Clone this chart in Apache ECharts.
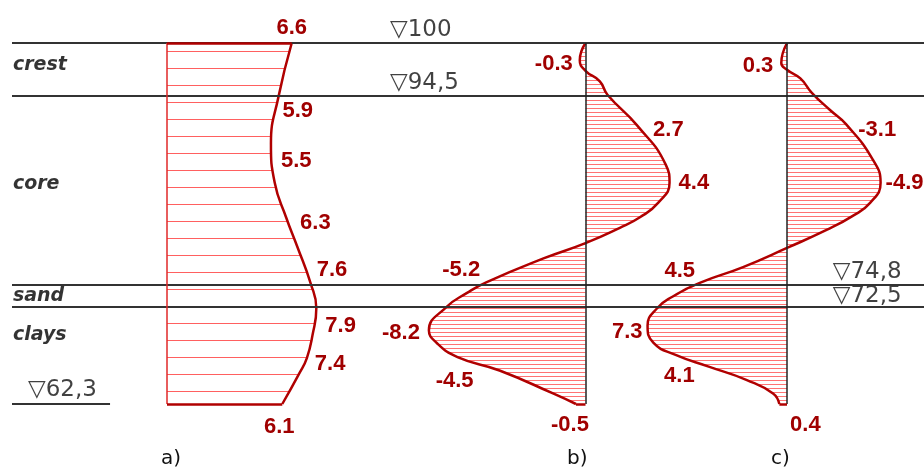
<!DOCTYPE html>
<html>
<head>
<meta charset="utf-8">
<script src="https://cdn.jsdelivr.net/npm/echarts@6/dist/echarts.min.js"></script>
<style>
  html, body { margin: 0; padding: 0; background: #ffffff; }
  #chart { width: 924px; height: 471px; }
</style>
</head>
<body>
<div id="chart"></div>
<script>
// Elevations of the layer boundaries (m) and how they are printed
const levelValues = [100, 94.5, 74.8, 72.5, 62.3];
const levelLabels = ['100', '94,5', '74,8', '72,5', '62,3'];

// Zones of the dam section and the elevation where each name is written
const layerNames = ['crest', 'core', 'sand', 'clays'];
const layerElev = [97.7, 85.3, 73.6, 69.5];

// Profile a)
const elevA = [100, 94.4, 89.5, 85.4, 81.8, 78.7, 74.9, 72.3, 69.5, 67.1, 65.5, 62.3];
const valA  = [6.6, 5.9, 5.5, 5.7, 6.3, 6.9, 7.6, 7.9, 7.7, 7.4, 7.0, 6.1];
const markedA = [0, 1, 2, 4, 6, 7, 9, 11];

// Profile b)
const elevB = [100, 98.2, 97.1, 96.0, 94.6, 91.4, 87.3, 85.4, 83.3, 81.8, 80.7, 79.1,
               77.5, 75.0, 73.9, 72.4, 70.0, 68.7, 67.2, 65.8, 63.4, 62.3];
const valB  = [0, -0.3, 0, 0.75, 1.15, 2.7, 4.2, 4.4, 3.8, 2.85, 1.8, 0,
               -2.2, -5.2, -6.2, -7.3, -8.2, -7.8, -6.7, -4.5, -1.7, -0.5];
const markedB = [1, 5, 7, 13, 16, 19, 21];

// Profile c)
const elevC = [100, 97.9, 97.2, 96.3, 94.8, 93.0, 91.5, 87.8, 85.4, 83.3, 81.9, 80.5,
               78.6, 76.6, 75.0, 73.5, 72.3, 70.5, 68.7, 67.4, 66.2, 64.8, 63.4, 62.3];
const valC  = [0, 0.3, 0, -0.7, -1.3, -2.25, -3.1, -4.5, -4.9, -4.35, -3.4, -2.1,
               0, 2.3, 4.5, 6.0, 6.8, 7.3, 7.0, 5.8, 4.1, 2.1, 0.73, 0.4];
const markedC = [1, 6, 8, 14, 17, 20, 23];

const panelNames = ['a)', 'b)', 'c)'];

// ---- styling ----
const CURVE = '#b00000';
const LABEL = '#a00000';
const RULE = '#333333';
const TOP = 100, BASE = 62.3;

const valueFont = {
  color: LABEL, fontFamily: '"Liberation Sans", Arial, sans-serif',
  fontWeight: 'bold', fontSize: 22
};

// label placement for the marked points of each profile
const placeA = [
  { position: 'top', distance: 4 },
  { position: 'right', distance: 4, offset: [0, 14] },
  { position: 'right', distance: 10, offset: [0, 17] },
  { position: 'right', distance: 14, offset: [0, 6] },
  { position: 'right', distance: 6, offset: [0, -13] },
  { position: 'right', distance: 9, offset: [0, 18] },
  { position: 'right', distance: 8, offset: [0, 6] },
  { position: 'bottom', distance: 12, offset: [-3, 0] }
];
const placeB = [
  { position: 'left', distance: 7, offset: [0, 4] },
  { position: 'right', distance: 16, offset: [0, 5] },
  { position: 'right', distance: 9 },
  { position: 'left', distance: 6, offset: [0, -12] },
  { position: 'left', distance: 9, offset: [0, 3] },
  { position: 'left', distance: 26, offset: [0, 10] },
  { position: 'bottom', distance: 10, offset: [-6, 0] }
];
const placeC = [
  { position: 'left', distance: 8, offset: [0, 3] },
  { position: 'right', distance: 12, offset: [0, 6] },
  { position: 'right', distance: 5 },
  { position: 'left', distance: 6, offset: [0, -11] },
  { position: 'left', distance: 5, offset: [0, 6] },
  { position: 'left', distance: 14, offset: [0, 9] },
  { position: 'bottom', distance: 10, offset: [26, 0] }
];

// horizontal hatching used to fill the diagrams
function hatch(step, color) {
  const c = document.createElement('canvas');
  c.width = 8; c.height = step;
  const g = c.getContext('2d');
  g.fillStyle = color;
  g.fillRect(0, 0, 8, 1);
  return c;
}

function edge(x0, y0, x1, y1, style) {
  return [{ coord: [x0, y0], lineStyle: style }, { coord: [x1, y1] }];
}

function profile(idx, elev, vals, marked, place, pattern, extraLines) {
  return {
    type: 'line',
    xAxisIndex: idx, yAxisIndex: idx,
    smooth: 0.5,
    clip: false,
    silent: true,
    z: 3,
    symbol: 'circle', symbolSize: 0.01, showSymbol: true,
    itemStyle: { color: CURVE },
    lineStyle: { color: CURVE, width: 2.5 },
    areaStyle: { color: { image: pattern, repeat: 'repeat' }, opacity: 1 },
    emphasis: { disabled: true },
    label: Object.assign({ show: false }, valueFont),
    data: elev.map((e, i) => {
      const item = { value: [vals[i], e] };
      const k = marked.indexOf(i);
      if (k >= 0) {
        item.label = Object.assign({ show: true, formatter: String(vals[i]) }, valueFont, place[k]);
      }
      return item;
    }),
    markLine: {
      silent: true, symbol: ['none', 'none'], label: { show: false },
      animation: false,
      data: extraLines
    }
  };
}

const thick = { color: CURVE, width: 2.5, type: 'solid' };
const axisZero = { color: '#222222', width: 1.5, type: 'solid' };

const sparse = hatch(17, '#ff6060');
const dense = hatch(4, '#ff7373');

const series = [];

// frame rules and annotations
series.push({
  type: 'scatter', xAxisIndex: 0, yAxisIndex: 0, silent: true, z: 1,
  symbolSize: 0,
  data: levelValues.map((v, i) => {
    const x = (v === TOP || v === 94.5) ? 41.45 : (v === BASE ? 1.75 : 90.0);
    const dy = [-13, -13, -12, -10, -14][i];
    return {
      value: [x, v],
      label: {
        show: true, position: 'right', distance: 0, offset: [0, dy],
        formatter: '\u25BD' + levelLabels[i],
        color: '#111111', fontFamily: 'DejaVu Sans', fontSize: 23
      }
    };
  }),
  markLine: {
    silent: true, symbol: ['none', 'none'], label: { show: false }, animation: false,
    lineStyle: { color: RULE, width: 2, type: 'solid' },
    data: levelValues.filter(v => v !== BASE).map(v => ({ yAxis: v }))
      .concat([edge(0, BASE, 10.75, BASE, { color: RULE, width: 2, type: 'solid' })])
  }
});
series.push({
  type: 'scatter', xAxisIndex: 0, yAxisIndex: 0, silent: true, z: 1,
  symbolSize: 0,
  data: layerNames.map((n, i) => ({
    value: [0.1, layerElev[i]],
    label: {
      show: true, position: 'right', distance: 0, formatter: n,
      color: '#000000', fontFamily: 'DejaVu Sans', fontWeight: 'bold',
      fontStyle: 'italic', fontSize: 19
    }
  }))
});

series.push(profile(1, elevA, valA, markedA, placeA, sparse, [
  edge(0, TOP, 0, BASE, { color: '#e02828', width: 1.5, type: 'solid' }),
  edge(0, TOP, valA[0], TOP, thick),
  edge(0, BASE, valA[valA.length - 1], BASE, thick)
]));
series.push(profile(2, elevB, valB, markedB, placeB, dense, [
  edge(0, TOP, 0, BASE, axisZero),
  edge(0, BASE, valB[valB.length - 1], BASE, thick)
]));
series.push(profile(3, elevC, valC, markedC, placeC, dense, [
  edge(0, TOP, 0, BASE, axisZero),
  edge(0, BASE, valC[valC.length - 1], BASE, thick)
]));

const hiddenAxis = { show: false, splitLine: { show: false } };
const elevAxis = Object.assign({ type: 'time', min: BASE, max: TOP }, hiddenAxis);

const option = {
  animation: false,
  backgroundColor: '#ffffff',
  grid: [
    { left: 12, right: 0, top: 43, bottom: 67 },
    { left: 167, width: 189, top: 43, bottom: 67 },
    { left: 413.6, width: 267.4, top: 43, bottom: 67 },
    { left: 634.2, width: 267.4, top: 43, bottom: 67 }
  ],
  xAxis: [
    Object.assign({ type: 'value', gridIndex: 0, min: 0, max: 100 }, hiddenAxis),
    Object.assign({ type: 'value', gridIndex: 1, min: 0, max: 10 }, hiddenAxis),
    Object.assign({ type: 'value', gridIndex: 2, min: -9, max: 5 }, hiddenAxis),
    Object.assign({ type: 'value', gridIndex: 3, min: -6, max: 8, inverse: true }, hiddenAxis)
  ],
  yAxis: [
    Object.assign({ type: 'value', gridIndex: 0, min: BASE, max: TOP }, hiddenAxis),
    Object.assign({ gridIndex: 1 }, elevAxis),
    Object.assign({ gridIndex: 2 }, elevAxis),
    Object.assign({ gridIndex: 3 }, elevAxis)
  ],
  graphic: panelNames.map((t, i) => ({
    type: 'text', left: [161, 567, 771][i], top: 449, silent: true,
    style: { text: t, fill: '#111111', font: '20px "DejaVu Sans"' }
  })),
  series: series
};

const chart = echarts.init(document.getElementById('chart'));
chart.setOption(option);
</script>
</body>
</html>
